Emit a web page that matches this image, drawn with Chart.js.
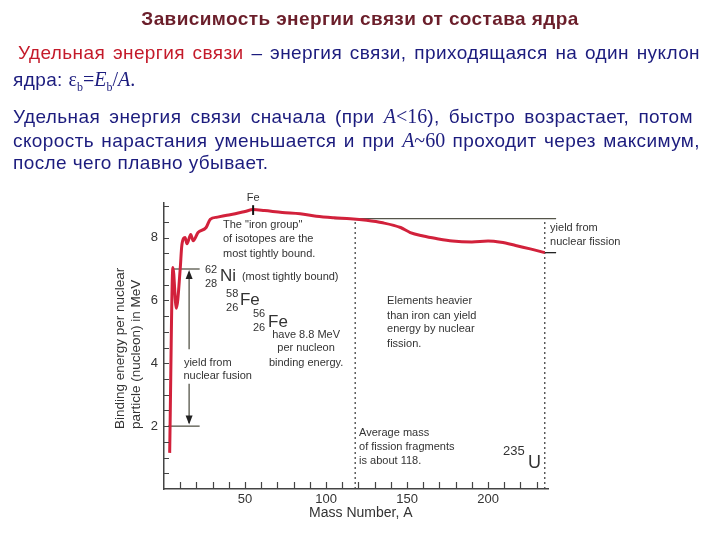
<!DOCTYPE html>
<html>
<head>
<meta charset="utf-8">
<script src="https://cdn.jsdelivr.net/npm/chart.js@4"></script>
<style>
  body { margin: 0; width: 720px; height: 540px; position: relative; overflow: hidden; background: #fff;
         font-family: "Liberation Sans", Arial, sans-serif; }
  canvas { position: absolute; left: 0; top: 0; }
  .txt { position: absolute; white-space: nowrap; z-index: 2; }
  #title { left: 0; width: 720px; top: 8px; text-align: center; font-weight: bold; font-size: 19px;
           letter-spacing: 0.4px; line-height: 22px; color: #6b1e2a; }
  .line { left: 13px; font-size: 19px; letter-spacing: 0.4px; line-height: 24px; color: #1c1c7e;
          text-align: justify; text-align-last: justify; }
  .last { text-align-last: left; }
  .red { color: #c41a2a; }
  .m { font-family: "Liberation Serif", "Times New Roman", serif; font-size: 20px; letter-spacing: 0; }
  .i { font-style: italic; }
  .sub { font-size: 12px; position: relative; top: 5px; }
</style>
</head>
<body>
<div id="title" class="txt">Зависимость энергии связи от состава ядра</div>
<div class="txt line" style="top:41px; width:682px; left:18px;"><span class="red">Удельная энергия связи</span> – энергия связи, приходящаяся на один нуклон</div>
<div class="txt line last" style="top:67px;">ядра: <span class="m">ε<span class="sub">b</span>=<span class="i">E</span><span class="sub">b</span>/<span class="i">A</span>.</span></div>
<div class="txt line" style="top:104px; width:680px;">Удельная энергия связи сначала (при <span class="m"><span class="i">A</span>&lt;16</span>), быстро возрастает, потом</div>
<div class="txt line" style="top:128px; width:687px;">скорость нарастания уменьшается и при <span class="m"><span class="i">A</span>~60</span> проходит через максимум,</div>
<div class="txt line last" style="top:151px;">после чего плавно убывает.</div>

<canvas id="chart" width="720" height="540"></canvas>

<script>
/************/
/*** DATA ***/
/************/

// Binding energy curve (MeV per nucleon vs mass number A):
const massNumber = [3.5, 5.5, 7.6, 10, 11, 13, 14.2, 16.5, 18, 21, 26, 28.5, 33, 38, 44, 50, 55, 62,
                    73, 84, 94, 105, 115, 125, 135, 146, 152, 160, 168, 178, 190, 200, 208, 217, 226, 235];
const bindingEnergy = [1.15, 7.05, 5.75, 7.0, 7.75, 8.0, 7.8, 8.1, 7.9, 8.16, 8.32, 8.58, 8.65, 8.7, 8.76, 8.83, 8.89, 8.86,
                       8.8, 8.76, 8.68, 8.63, 8.6, 8.55, 8.47, 8.32, 8.16, 8.05, 7.97, 7.89, 7.86, 7.89, 7.85, 7.75, 7.64, 7.52];

// Guide lines:
const fusionTopA = [5, 22];        // level 7 MeV
const fusionBottomA = [2.5, 22];   // level 2 MeV
const fissionTopA = [105, 242];    // level 8.6 MeV
const uraniumA = [235, 242];       // level of 235U
const dottedA = [118, 235];        // average fragment mass and 235U
const ironA = 55;

// Axis ticks:
const xTickLabels = [50, 100, 150, 200];
const yTickLabels = [2, 4, 6, 8];

const FONT = '"Liberation Sans", Arial, sans-serif';
const INK = '#333';
const GUIDE = '#55554a';

/*************************/
/*** ANNOTATION PLUGIN ***/
/*************************/

// [text, A, E, size, align]
const notes = [
  ['Fe', 55, 9.25, 11, 'center'],
  ['The "iron group"', 36.4, 8.41, 11, 'left'],
  ['of isotopes are the', 36.4, 7.94, 11, 'left'],
  ['most tightly bound.', 36.4, 7.49, 11, 'left'],
  ['62', 25.3, 6.98, 11, 'left'],
  ['28', 25.3, 6.51, 11, 'left'],
  ['Ni', 34.6, 6.76, 17, 'left'],
  ['(most tightly bound)', 48.1, 6.76, 11, 'left'],
  ['58', 38.3, 6.22, 11, 'left'],
  ['26', 38.3, 5.75, 11, 'left'],
  ['Fe', 46.9, 6.0, 17, 'left'],
  ['56', 54.9, 5.56, 11, 'left'],
  ['26', 54.9, 5.11, 11, 'left'],
  ['Fe', 64.2, 5.3, 17, 'left'],
  ['have 8.8 MeV', 87.7, 4.89, 11, 'center'],
  ['per nucleon', 87.7, 4.48, 11, 'center'],
  ['binding energy.', 87.7, 4.0, 11, 'center'],
  ['yield from', 12.3, 4.0, 11, 'left'],
  ['nuclear fusion', 12.0, 3.59, 11, 'left'],
  ['Elements heavier', 137.7, 5.97, 11, 'left'],
  ['than iron can yield', 137.7, 5.52, 11, 'left'],
  ['energy by nuclear', 137.7, 5.08, 11, 'left'],
  ['fission.', 137.7, 4.6, 11, 'left'],
  ['yield from', 238.3, 8.32, 11, 'left'],
  ['nuclear fission', 238.3, 7.87, 11, 'left'],
  ['Average mass', 120.4, 1.78, 11, 'left'],
  ['of fission fragments', 120.4, 1.33, 11, 'left'],
  ['is about 118.', 120.4, 0.89, 11, 'left'],
  ['235', 209.3, 1.21, 13, 'left'],
  ['U', 224.7, 0.83, 18, 'left']
];

function arrowHead(ctx, x, y, dir) {
  ctx.beginPath();
  ctx.moveTo(x, y);
  ctx.lineTo(x - 3.5, y + dir * 9);
  ctx.lineTo(x + 3.5, y + dir * 9);
  ctx.closePath();
  ctx.fill();
}

const annotationPlugin = {
  id: 'annotations',
  afterDraw(chart) {
    const {ctx, scales: {x, y}} = chart;
    ctx.save();

    // inward tick marks
    ctx.strokeStyle = '#444';
    ctx.lineWidth = 1.2;
    ctx.beginPath();
    for (let a = 10; a <= 230; a += 10) {
      const px = Math.round(x.getPixelForValue(a)) + 0.5;
      ctx.moveTo(px, y.bottom);
      ctx.lineTo(px, y.bottom - 7);
    }
    for (let e = 0.5; e <= 9; e += 0.5) {
      const py = Math.round(y.getPixelForValue(e)) + 0.5;
      ctx.moveTo(x.left, py);
      ctx.lineTo(x.left + 5, py);
    }
    ctx.stroke();

    // fusion arrow
    const ax = x.getPixelForValue(15.5);
    ctx.strokeStyle = GUIDE;
    ctx.fillStyle = '#222';
    ctx.lineWidth = 1.3;
    ctx.beginPath();
    ctx.moveTo(ax, y.getPixelForValue(6.9));
    ctx.lineTo(ax, y.getPixelForValue(4.45));
    ctx.moveTo(ax, y.getPixelForValue(3.35));
    ctx.lineTo(ax, y.getPixelForValue(2.1));
    ctx.stroke();
    arrowHead(ctx, ax, y.getPixelForValue(6.97), 1);
    arrowHead(ctx, ax, y.getPixelForValue(2.05), -1);

    // texts
    ctx.fillStyle = INK;
    ctx.textBaseline = 'middle';
    notes.forEach(([t, a, e, size, align]) => {
      ctx.font = size + 'px ' + FONT;
      ctx.textAlign = align;
      ctx.fillText(t, x.getPixelForValue(a), y.getPixelForValue(e));
    });

    // axis titles
    ctx.font = '14px ' + FONT;
    ctx.textAlign = 'center';
    ctx.fillText('Mass Number, A', x.getPixelForValue(121.5), y.bottom + 24);
    ctx.save();
    ctx.translate(x.left - 44, 429);
    ctx.rotate(-Math.PI / 2);
    ctx.textAlign = 'left';
    ctx.font = '13.5px ' + FONT;
    ctx.fillText('Binding energy per nuclear', 0, 0);
    ctx.fillText('particle (nucleon) in MeV', 0, 16);
    ctx.restore();

    ctx.restore();
  }
};

/****************/
/*** PLOTTING ***/
/****************/

function guide(xs, level, opts = {}) {
  return Object.assign({
    data: xs.map(a => ({x: a, y: level})),
    borderColor: GUIDE, borderWidth: 1.3, pointRadius: 0, clip: false, order: 2
  }, opts);
}

const datasets = [
  {
    label: 'Binding energy',
    data: massNumber.map((a, i) => ({x: a, y: bindingEnergy[i]})),
    borderColor: '#d2213b', borderWidth: 3, pointRadius: 0,
    cubicInterpolationMode: 'monotone', order: 1
  },
  guide(fusionTopA, 7),
  guide(fusionBottomA, 2),
  guide(fissionTopA, 8.6),
  guide(uraniumA, 7.52, {borderColor: '#222'}),
  ...dottedA.map(a => ({
    data: [{x: a, y: 0}, {x: a, y: 8.5}],
    borderColor: '#444', borderWidth: 1.3, borderDash: [2, 3], pointRadius: 0, clip: false, order: 2
  })),
  {
    data: [{x: ironA, y: 8.72}, {x: ironA, y: 9.03}],
    borderColor: '#111', borderWidth: 2, pointRadius: 0, clip: false, order: 0
  }
];

Chart.defaults.font.family = FONT;

const chart = new Chart(document.getElementById('chart'), {
  type: 'line',
  data: {datasets: datasets},
  options: {
    responsive: false,
    animation: false,
    layout: {padding: {left: 124, right: 172, top: 203, bottom: 0}},
    plugins: {legend: {display: false}, tooltip: {enabled: false}},
    scales: {
      x: {
        type: 'linear', min: 0, max: 237,
        afterFit: s => { s.height = 51; },
        grid: {display: false, drawTicks: false},
        border: {display: true, color: '#444', width: 1.5},
        ticks: {
          stepSize: 10, autoSkip: false, maxRotation: 0, padding: 3, color: INK, font: {size: 13},
          callback: v => xTickLabels.includes(v) ? v : ''
        }
      },
      y: {
        min: 0, max: 9.1,
        afterFit: s => { s.width = 40; },
        grid: {display: false, drawTicks: false},
        border: {display: true, color: '#444', width: 1.5},
        ticks: {
          stepSize: 0.5, autoSkip: false, padding: 6, color: INK, font: {size: 13},
          callback: v => yTickLabels.includes(v) ? v : ''
        }
      }
    }
  },
  plugins: [annotationPlugin]
});
</script>
</body>
</html>
